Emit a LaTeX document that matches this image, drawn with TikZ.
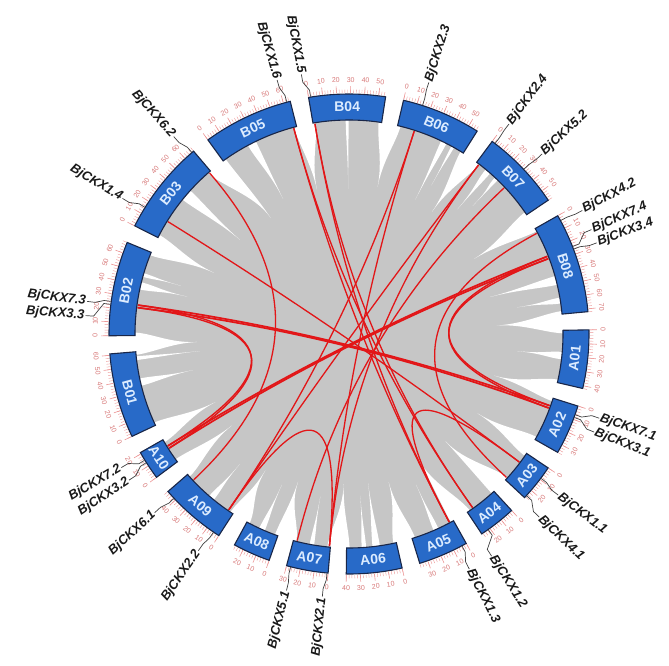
\documentclass[tikz,border=0pt]{standalone}
\usepackage{fontspec}
\setmainfont{Liberation Sans}
\definecolor{chrblue}{RGB}{40,106,200}
\definecolor{chredge}{RGB}{25,38,72}
\definecolor{chrtext}{RGB}{220,236,255}
\definecolor{ribgray}{RGB}{198,198,198}
\definecolor{linkred}{RGB}{226,22,24}
\definecolor{tickred}{RGB}{236,150,150}
\definecolor{ticktext}{RGB}{215,120,120}
\newcommand\spike[4]{%
  \pgfmathsetmacro\sa{#1+#2}\pgfmathsetmacro\sb{#1-#2}\pgfmathsetmacro\rc{#4+28}%
  \fill[spk] (\sa:216pt) .. controls (\sa:198pt) and (#3:\rc pt) .. (#3:#4pt)
     .. controls (#3:\rc pt) and (\sb:198pt) .. (\sb:216pt) -- cycle;}
\newcommand\cklink[3][1.3pt]{\draw[lnk,line width=#1] (#2:213pt) .. controls (#2:71pt) and (#3:71pt) .. (#3:213pt);}
\newcommand\gene[4]{%
  \draw[leader] (#3:240.5pt) -- (#3:247pt) -- (#4:256pt) -- (#4:264pt);
  \pgfmathtruncatemacro\rs{cos(#4)>=0 ? 1 : 0}%
  \ifnum\rs=1
    \node[genelab,anchor=west,rotate=#4] (#1) at (#4:265pt) {#2};
  \else
    \pgfmathsetmacro\lrot{#4+180}%
    \node[genelab,anchor=east,rotate=\lrot] (#1) at (#4:265pt) {#2};
  \fi}
\begin{document}
\begin{tikzpicture}[x=1pt,y=1pt,
  chrbox/.style={fill=chrblue,draw=chredge,line width=1.1pt},
  chrname/.style={text=chrtext,font=\fontsize{14}{14}\selectfont\bfseries,inner sep=0pt},
  tickmin/.style={draw=tickred,line width=0.4pt},
  tickmaj/.style={draw=tickred,line width=0.6pt},
  ticklab/.style={text=ticktext,font=\fontsize{7}{7}\selectfont,inner sep=0pt},
  leader/.style={draw=black!75,line width=0.7pt},
  genelab/.style={font=\fontsize{13}{14}\selectfont\bfseries\itshape,inner sep=0pt,text=black!90},
  lnk/.style={draw=linkred},
  spk/.style={fill=white,draw=none}]
\useasboundingbox (-349,-332) rectangle (320,334);
% ribbons background
\fill[ribgray] (0,0) circle (214pt);
% white gaps between ribbons (at chromosome gaps)
\foreach \g/\h/\t/\r in {101.94/3/102.5/148, 79.05/3/79/150, 55.55/3/55.8/148,
  31.7/3/31/146, 3.17/3/3.3/148, -15.3/3/-16/151, -31.75/3/-31.7/151,
  -45.17/3/-48/144, -58.59/3/-61/144, -75.04/3/-75/153, -92.83/3/-92/150,
  -107.26/3/-109/156, -120.68/3/-121.5/160, -141.16/3/-142/149,
  -152.57/3/-153/150, -177.4/3/-177/152, -204.6/3/-204.4/148, -231.8/3/-236/140}
  {\spike{\g}{\h}{\t}{\r}}
% thin slivers inside chromosomes
\foreach \g/\h/\t/\r in {117/1.2/116/150, 90.5/0.4/90.3/145, 63.7/0.8/63.7/150,
  61/0.4/61/170, 49.5/0.8/49/165, 46.5/0.5/46/178, 14.5/1.2/14.7/146, 9/0.8/9/170,
  -5.8/1.0/-5.8/169, -66/0.7/-66/165, -82.7/1.0/-82.7/150, -86/0.6/-86/162,
  -100/0.6/-100/165, -114/0.8/-114/165, -130/0.8/-130/170, -167/1.0/-167/160,
  -173.5/0.5/-173.5/150, 167/1.0/167/166, 164/0.5/164/175, 139.5/1.6/139.2/144}
  {\spike{\g}{\h}{\t}{\r}}
% red links
\cklink{148.18}{323.06}
\cklink{99.2}{305.44}
\cklink{105.02}{298.06}
\cklink{99.2}{298.06}
\cklink{105.02}{305.44}
\cklink{298.06}{323.06}
\cklink{235.64}{264.73}
\cklink{72.17}{235.64}
\cklink{52.53}{264.73}
\cklink{52.53}{235.64}
\cklink{72.17}{264.73}
\cklink{43.29}{255.93}
\cklink{28.19}{317.68}
\cklink{130.88}{223.2}
\cklink[1.7pt]{172.2}{340.35}
\cklink[1.7pt]{172.9}{339.67}
\cklink[1.7pt]{211.7}{21.37}
\cklink[1.7pt]{212.4}{20.7}
\cklink[1.4pt]{172.2}{211.7}
\cklink[1.4pt]{172.9}{212.4}
\cklink[1.4pt]{21.37}{340.35}
\cklink[1.4pt]{20.7}{339.67}
% chromosomes, names, ticks
\foreach \nm/\st/\len in {B04/99.7/55, B06/76.87/57, B07/53.37/58, B08/29.53/72,
  A01/0.99/42, A02/-17.47/36, A03/-33.92/27, A04/-47.34/27, A05/-60.76/36,
  A06/-77.21/40, A07/-95.0/30, A08/-109.43/27, A09/-122.85/48, A10/-143.33/21,
  B01/-154.74/61, B02/-179.58/68, B03/-206.78/68, B05/-233.98/65}{
  \pgfmathsetmacro\en{\st-\len*0.336}
  \pgfmathsetmacro\md{(\st+\en)/2}
  \pgfmathsetmacro\rot{sin(\md)>=0 ? \md-90 : \md+90}
  \filldraw[chrbox] (\st:214pt) arc[start angle=\st,end angle=\en,radius=214pt]
     -- (\en:240pt) arc[start angle=\en,end angle=\st,radius=240pt] -- cycle;
  \node[chrname,rotate=\rot] (c\nm) at (\md:227pt) {\nm};
  \foreach \m in {0,2,...,\len}{
    \pgfmathsetmacro\ta{\st-\m*0.336}
    \draw[tickmin] (\ta:241pt) -- (\ta:244.5pt);
  }
  \foreach \m in {0,10,...,\len}{
    \pgfmathsetmacro\ta{\st-\m*0.336}
    \pgfmathsetmacro\tr{sin(\ta)>=0 ? \ta-90 : \ta+90}
    \draw[tickmaj] (\ta:241pt) -- (\ta:248pt);
    \node[ticklab,rotate=\tr] (t\nm-\m) at (\ta:254pt) {\m};
  }
}
% gene labels
\gene{g16}{BjCKX1.6}{105.02}{105.8}
\gene{g15}{BjCKX1.5}{99.2}{100.4}
\gene{g62}{BjCKX6.2}{130.88}{131.6}
\gene{g14}{BjCKX1.4}{148.18}{149.1}
\gene{g73}{BjCKX7.3}{172.2}{172.9}
\gene{g33}{BjCKX3.3}{172.9}{176.0}
\gene{g72}{BjCKX7.2}{211.7}{210.4}
\gene{g32}{BjCKX3.2}{212.4}{213.6}
\gene{g61}{BjCKX6.1}{223.2}{222.6}
\gene{g22}{BjCKX2.2}{235.64}{235.2}
\gene{g51}{BjCKX5.1}{255.93}{256.3}
\gene{g21}{BjCKX2.1}{264.73}{264.2}
\gene{g13}{BjCKX1.3}{298.06}{297.1}
\gene{g12}{BjCKX1.2}{305.44}{302.7}
\gene{g41}{BjCKX4.1}{317.68}{316.1}
\gene{g11}{BjCKX1.1}{323.06}{322.4}
\gene{g31}{BjCKX3.1}{339.67}{338.2}
\gene{g71}{BjCKX7.1}{340.35}{341.4}
\gene{g34}{BjCKX3.4}{20.7}{20.2}
\gene{g74}{BjCKX7.4}{21.37}{23.3}
\gene{g42}{BjCKX4.2}{28.19}{27.9}
\gene{g52}{BjCKX5.2}{43.29}{43.0}
\gene{g24}{BjCKX2.4}{52.53}{52.7}
\gene{g23}{BjCKX2.3}{72.17}{72.4}
\end{tikzpicture}
\end{document}
